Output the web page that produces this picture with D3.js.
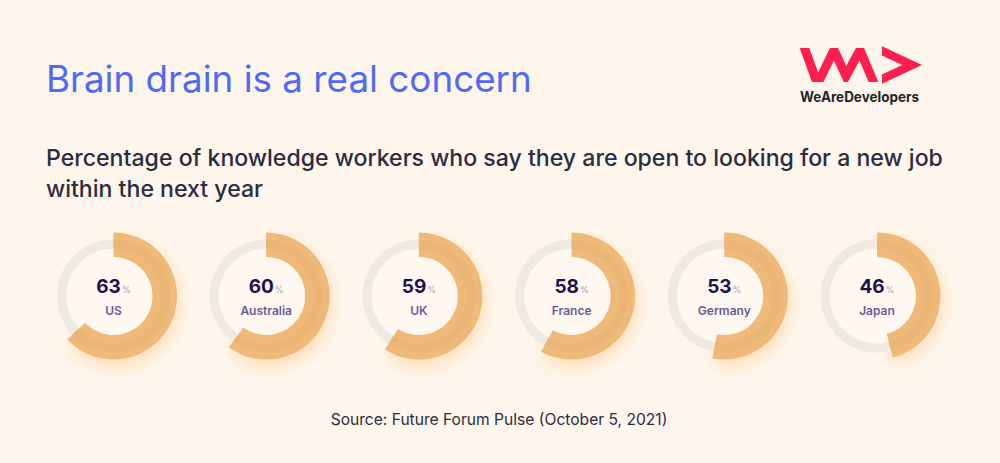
<!DOCTYPE html>
<html>
<head>
<meta charset="utf-8">
<script src="https://cdn.jsdelivr.net/npm/d3@7"></script>
<style>
  html, body { margin: 0; padding: 0; background: #fef6ed; }
  svg { display: block; font-family: "Inter", "Open Sans", sans-serif; }
</style>
</head>
<body>
<div class="chart"></div>
<script>
// Brain drain donut row
var countries = ["US", "Australia", "UK", "France", "Germany", "Japan"];
var openToNewJob = [63, 60, 59, 58, 53, 46];

var svgWidth = 1000;
var svgHeight = 463;

var svg = d3.select(".chart")
            .append("svg")
            .attr("width", svgWidth)
            .attr("height", svgHeight);

svg.append("rect")
   .attr("width", svgWidth)
   .attr("height", svgHeight)
   .attr("fill", "#fef6ed");

var defs = svg.append("defs");
var glow = defs.append("filter")
               .attr("id", "glow")
               .attr("x", "-50%").attr("y", "-50%")
               .attr("width", "200%").attr("height", "200%");
glow.append("feGaussianBlur").attr("stdDeviation", 9);

// Titles
svg.append("text")
   .attr("x", 46)
   .attr("y", 92)
   .attr("fill", "#4e6bf6")
   .style("font-size", "36.8px")
   .style("font-weight", 400)
   .text("Brain drain is a real concern");

var sub = svg.append("text")
             .attr("fill", "#2b2d40")
             .style("font-size", "23.1px")
             .style("font-weight", 500);
sub.append("tspan").attr("x", 46).attr("y", 166)
   .text("Percentage of knowledge workers who say they are open to looking for a new job");
sub.append("tspan").attr("x", 46).attr("y", 197)
   .text("within the next year");

svg.append("text")
   .attr("x", 499)
   .attr("y", 425)
   .attr("text-anchor", "middle")
   .attr("fill", "#2b2d40")
   .style("font-size", "15.6px")
   .text("Source: Future Forum Pulse (October 5, 2021)");

// Logo
var logo = svg.append("g");
defs.append("clipPath").attr("id", "logoClip")
    .append("rect").attr("x", 796).attr("y", 48).attr("width", 82).attr("height", 34);
logo.append("polyline")
    .attr("clip-path", "url(#logoClip)")
    .attr("points", "803,44 817.5,84 834,50 846,76 860,50 876,88")
    .attr("fill", "none")
    .attr("stroke", "#ff1f4f")
    .attr("stroke-width", 9)
    .attr("stroke-linejoin", "miter");
defs.append("clipPath").attr("id", "arrowClip")
    .append("rect").attr("x", 882).attr("y", 40).attr("width", 40).attr("height", 50);
logo.append("polyline")
    .attr("clip-path", "url(#arrowClip)")
    .attr("points", "878,49 912,65 878,81")
    .attr("fill", "none")
    .attr("stroke", "#ff1f4f")
    .attr("stroke-width", 8.5)
    .attr("stroke-linejoin", "miter");
logo.append("text")
    .attr("x", 800)
    .attr("y", 102)
    .attr("fill", "#23232b")
    .attr("textLength", 119)
    .attr("lengthAdjust", "spacingAndGlyphs")
    .style("font-size", "14px")
    .style("font-weight", 700)
    .text("WeAreDevelopers");

// Scales
var xScale = d3.scalePoint()
               .domain(countries)
               .range([113.5, 877]);
var angle = d3.scaleLinear()
              .domain([0, 100])
              .range([0, 2 * Math.PI]);

var cy = 296;
var data = countries.map(function (c, i) { return { country: c, value: openToNewJob[i] }; });

var track = d3.arc().innerRadius(47.5).outerRadius(56.5).startAngle(0).endAngle(2 * Math.PI);
var valueArc = d3.arc().innerRadius(39).outerRadius(63.5).startAngle(0).endAngle(d => angle(d.value));
var midArc = d3.arc().innerRadius(47.5).outerRadius(56).startAngle(0).endAngle(d => angle(d.value));

var donuts = svg.selectAll(".donut")
                .data(data)
                .enter()
                .append("g")
                .attr("class", "donut")
                .attr("transform", d => `translate(${xScale(d.country)}, ${cy})`);

// soft glow under the arc
donuts.append("path")
      .attr("d", valueArc)
      .attr("transform", "translate(2, 7)")
      .attr("fill", "#ffd4a0")
      .attr("opacity", 0.75)
      .attr("filter", "url(#glow)");

donuts.append("circle")
      .attr("r", 47)
      .attr("fill", "#fff8f1");

donuts.append("path")
      .attr("d", track)
      .attr("fill", "#efe9e3");

donuts.append("path")
      .attr("d", valueArc)
      .attr("fill", "#eeb979");

donuts.append("path")
      .attr("d", midArc)
      .attr("fill", "#eab575");

var num = donuts.append("text")
                .attr("y", -3)
                .attr("text-anchor", "middle");
num.append("tspan")
   .attr("fill", "#1c1250")
   .style("font-size", "19px")
   .style("font-weight", 700)
   .text(d => d.value);
num.append("tspan")
   .attr("dx", 1)
   .attr("fill", "#a79fc2")
   .style("font-size", "9px")
   .text("%");

donuts.append("text")
      .attr("y", 19)
      .attr("text-anchor", "middle")
      .attr("fill", "#6b5c96")
      .style("font-size", "12px")
      .style("font-weight", 600)
      .text(d => d.country);
</script>
</body>
</html>
